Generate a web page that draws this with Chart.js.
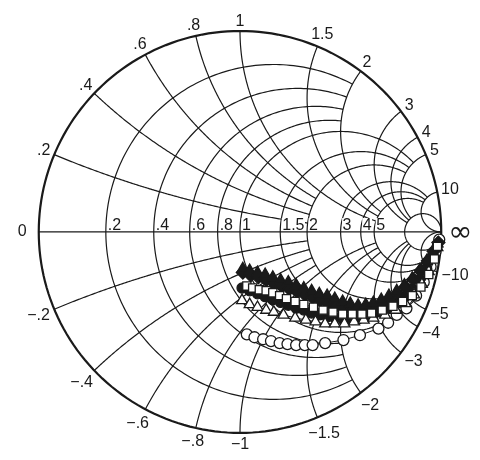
<!DOCTYPE html>
<html lang="en">
<head>
<meta charset="UTF-8">
<title>Smith chart</title>
<script src="https://cdn.jsdelivr.net/npm/chart.js"></script>
<style>
  html, body { margin: 0; padding: 0; background: #fff; }
  #wrap { width: 480px; height: 460px; }
</style>
</head>
<body>
<div id="wrap"><canvas id="smith" width="480" height="460"></canvas></div>
<script>
// grid values: resistance circles and reactance arcs share the same set
const gridValues = [0.2, 0.4, 0.6, 0.8, 1, 1.5, 2, 3, 4, 5, 10];
const gridLabels = ['.2', '.4', '.6', '.8', '1', '1.5', '2', '3', '4', '5', '10'];
const axisValues = [0.2, 0.4, 0.6, 0.8, 1, 1.5, 2, 3, 4, 5];
const axisLabels = ['.2', '.4', '.6', '.8', '1', '1.5', '2', '3', '4', '5'];
// where each circle / arc stops (|x| for r circles, r for x arcs)
const gridStops = [2, 2, 2, 2, 5, 5, 5, 10, 10, 10, Infinity];

const openCircleRe = [0.034, 0.072, 0.115, 0.154, 0.197, 0.236, 0.279, 0.322, 0.361, 0.423, 0.514, 0.596, 0.688, 0.736, 0.779, 0.827, 0.875, 0.913, 0.947, 0.971, 0.990];
const openCircleIm = [-0.510, -0.524, -0.534, -0.543, -0.553, -0.558, -0.563, -0.563, -0.563, -0.553, -0.538, -0.514, -0.481, -0.452, -0.413, -0.380, -0.317, -0.250, -0.173, -0.101, -0.038];

const openTriRe = [0.010, 0.048, 0.087, 0.130, 0.168, 0.216, 0.274, 0.327, 0.375, 0.423, 0.471, 0.519, 0.567, 0.615, 0.663, 0.721, 0.774, 0.822, 0.865, 0.904, 0.938, 0.962, 0.981];
const openTriIm = [-0.341, -0.361, -0.375, -0.389, -0.399, -0.413, -0.428, -0.438, -0.447, -0.457, -0.457, -0.457, -0.447, -0.438, -0.428, -0.413, -0.389, -0.356, -0.312, -0.260, -0.197, -0.135, -0.077];

const dotRe = [0.010, 0.048, 0.087, 0.125, 0.163, 0.202, 0.240, 0.279, 0.317, 0.356, 0.394, 0.433, 0.471, 0.510, 0.548, 0.587, 0.625, 0.663, 0.702, 0.740, 0.779, 0.817, 0.856, 0.894, 0.928, 0.957, 0.981];
const dotIm = [-0.279, -0.293, -0.308, -0.322, -0.337, -0.351, -0.365, -0.380, -0.389, -0.404, -0.413, -0.423, -0.428, -0.433, -0.433, -0.433, -0.423, -0.413, -0.399, -0.380, -0.356, -0.322, -0.284, -0.236, -0.183, -0.125, -0.067];

const squareRe = [0.034, 0.063, 0.096, 0.130, 0.163, 0.197, 0.231, 0.274, 0.317, 0.365, 0.413, 0.462, 0.510, 0.558, 0.606, 0.654, 0.707, 0.760, 0.808, 0.856, 0.899, 0.938, 0.966, 0.981];
const squareIm = [-0.269, -0.279, -0.288, -0.293, -0.303, -0.317, -0.332, -0.346, -0.361, -0.375, -0.389, -0.399, -0.409, -0.409, -0.409, -0.404, -0.389, -0.370, -0.346, -0.317, -0.274, -0.212, -0.135, -0.072];

const diamondRe = [0.014, 0.053, 0.091, 0.130, 0.168, 0.207, 0.245, 0.284, 0.322, 0.361, 0.399, 0.438, 0.476, 0.514, 0.553, 0.591, 0.630, 0.668, 0.707, 0.745, 0.784, 0.822, 0.861, 0.899, 0.933, 0.962, 0.986];
const diamondIm = [-0.202, -0.216, -0.226, -0.240, -0.255, -0.269, -0.284, -0.298, -0.312, -0.327, -0.341, -0.356, -0.370, -0.380, -0.389, -0.394, -0.389, -0.380, -0.361, -0.337, -0.308, -0.274, -0.236, -0.192, -0.144, -0.096, -0.053];

const triRe = [0.014, 0.048, 0.087, 0.125, 0.163, 0.202, 0.240, 0.279, 0.317, 0.356, 0.394, 0.433, 0.471, 0.510, 0.548, 0.587, 0.625, 0.663, 0.702, 0.740, 0.779, 0.817, 0.856, 0.894, 0.928, 0.957, 0.981];
const triIm = [-0.183, -0.192, -0.202, -0.212, -0.226, -0.240, -0.250, -0.264, -0.279, -0.293, -0.308, -0.317, -0.332, -0.346, -0.356, -0.365, -0.361, -0.351, -0.337, -0.317, -0.293, -0.264, -0.231, -0.188, -0.144, -0.101, -0.058];

const INK = '#1a1a1a';
const FONT = '16px "Liberation Sans", Arial, sans-serif';

// normalized impedance r + jx -> reflection coefficient
function gamma(r, x) {
  const d = (r + 1) * (r + 1) + x * x;
  return [(r * r - 1 + x * x) / d, 2 * x / d];
}

const smithGrid = {
  id: 'smithGrid',
  beforeDatasetsDraw(chart) {
    const ctx = chart.ctx;
    const sx = chart.scales.x, sy = chart.scales.y;
    const px = (re, im) => [sx.getPixelForValue(re), sy.getPixelForValue(im)];

    function arcPath(cx, cy, rad, a0, a1, flip) {
      const n = 200;
      ctx.beginPath();
      for (let i = 0; i <= n; i++) {
        const a = a0 + (a1 - a0) * i / n;
        let im = cy + rad * Math.sin(a);
        if (flip) im = -im;
        const p = px(cx + rad * Math.cos(a), im);
        if (i === 0) ctx.moveTo(p[0], p[1]); else ctx.lineTo(p[0], p[1]);
      }
      ctx.stroke();
    }
    const norm = a => (a < 0 ? a + 2 * Math.PI : a);

    ctx.save();
    ctx.strokeStyle = INK;
    ctx.lineWidth = 1.2;

    // constant resistance circles
    gridValues.forEach((r, i) => {
      const c = r / (1 + r), rad = 1 / (1 + r);
      let a = 0;
      if (isFinite(gridStops[i])) {
        const g = gamma(r, gridStops[i]);
        a = Math.atan2(g[1], g[0] - c);
      }
      arcPath(c, 0, rad, a, 2 * Math.PI - a, false);
    });

    // constant reactance arcs, upper and lower half
    gridValues.forEach((x, i) => {
      const cy = 1 / x, rad = 1 / x;
      const g0 = gamma(0, x);
      const a0 = norm(Math.atan2(g0[1] - cy, g0[0] - 1));
      let a1 = 1.5 * Math.PI;
      if (isFinite(gridStops[i])) {
        const g1 = gamma(gridStops[i], x);
        a1 = norm(Math.atan2(g1[1] - cy, g1[0] - 1));
      }
      arcPath(1, cy, rad, a0, a1, false);
      arcPath(1, cy, rad, a0, a1, true);
    });

    // real axis
    const L = px(-1, 0), Rt = px(1, 0);
    ctx.beginPath();
    ctx.moveTo(L[0], L[1]);
    ctx.lineTo(Rt[0], Rt[1]);
    ctx.stroke();

    // outer circle
    ctx.lineWidth = 2.2;
    arcPath(0, 0, 1, 0, 2 * Math.PI, false);

    // labels round the rim
    ctx.font = FONT;
    ctx.fillStyle = INK;
    ctx.textAlign = 'center';
    ctx.textBaseline = 'middle';
    const o = px(0, 0);
    const R = Rt[0] - o[0];
    gridValues.forEach((x, i) => {
      [1, -1].forEach(s => {
        const g = gamma(0, s * x);
        const p = px(g[0], g[1]);
        const dx = (p[0] - o[0]) / R, dy = (p[1] - o[1]) / R;
        const txt = (s < 0 ? '\u2212' : '') + gridLabels[i];
        const w = ctx.measureText(txt).width;
        const d = 3 + 3 * Math.max(0, dy) + Math.abs(dx) * w / 2 + Math.abs(dy) * 6;
        ctx.fillText(txt, p[0] + dx * d, p[1] + dy * d);
      });
    });

    // labels along the real axis
    ctx.textAlign = 'left';
    ctx.textBaseline = 'alphabetic';
    axisValues.forEach((r, i) => {
      const g = gamma(r, 0);
      const p = px(g[0], 0);
      const w = ctx.measureText(axisLabels[i]).width;
      ctx.fillStyle = '#fff';
      ctx.fillRect(p[0] + 1.5, p[1] - 14, w + 1, 12.5);
      ctx.fillStyle = INK;
      ctx.fillText(axisLabels[i], p[0] + 2, p[1] - 2);
    });

    ctx.textAlign = 'right';
    ctx.textBaseline = 'middle';
    ctx.fillText('0', L[0] - 12, L[1]);
    ctx.font = '29px "DejaVu Sans", sans-serif';
    ctx.textAlign = 'left';
    ctx.fillText('\u221e', Rt[0] + 7, Rt[1] + 2);
    ctx.restore();
  }
};

function toPoints(re, im) {
  return re.map((v, i) => ({ x: v, y: im[i] }));
}

function series(label, re, im, style, radius, fill, order) {
  return {
    label: label,
    data: toPoints(re, im),
    showLine: true,
    borderColor: INK,
    borderWidth: 1,
    pointStyle: style,
    pointRadius: radius,
    pointBackgroundColor: fill,
    pointBorderColor: INK,
    pointBorderWidth: 1.3,
    order: order
  };
}

new Chart(document.getElementById('smith').getContext('2d'), {
  type: 'scatter',
  data: {
    datasets: [
      series('open squares', squareRe, squareIm, 'rect', 5.8, '#fff', 1),
      series('filled triangles', triRe, triIm, 'triangle', 6.5, INK, 2),
      series('filled diamonds', diamondRe, diamondIm, 'rectRot', 6.5, INK, 3),
      series('open triangles', openTriRe, openTriIm, 'triangle', 6.3, '#fff', 4),
      series('filled circles', dotRe, dotIm, 'circle', 5, INK, 5),
      series('open circles', openCircleRe, openCircleIm, 'circle', 5.5, '#fff', 6)
    ]
  },
  options: {
    responsive: false,
    animation: false,
    layout: { padding: 0 },
    plugins: { legend: { display: false }, tooltip: { enabled: false } },
    scales: {
      x: { type: 'linear', min: -240 / 208, max: 240 / 208, display: false },
      y: { type: 'linear', min: -228 / 208, max: 232 / 208, display: false }
    }
  },
  plugins: [smithGrid]
});
</script>
</body>
</html>
